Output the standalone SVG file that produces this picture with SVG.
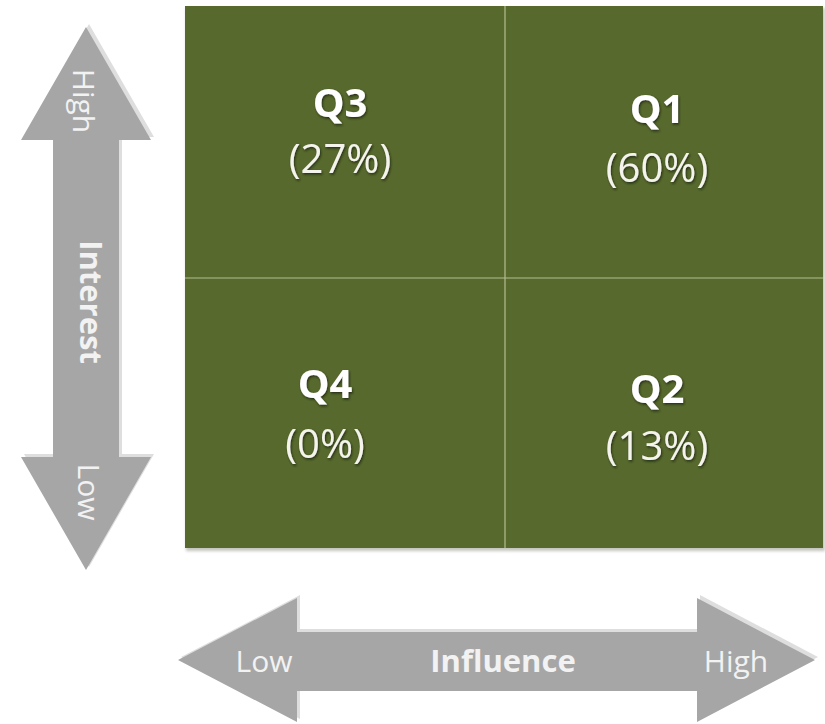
<svg xmlns="http://www.w3.org/2000/svg" width="825" height="724" viewBox="0 0 825 724">
  <defs>
    <style>
      .quad { fill: #57692d; }
      .divider { stroke: #b4bd92; stroke-width: 1.2; }
      .arrow { fill: #a6a6a6; }
      .arrow-rim { fill: #dedede; }
      .qtitle { font-family: "Open Sans", "Liberation Sans", sans-serif; font-weight: bold; font-size: 40px; fill: #ffffff; text-anchor: middle; filter: url(#txtShadow); }
      .qvalue { font-family: "Open Sans", "Liberation Sans", sans-serif; font-size: 40px; fill: #f4f4ec; text-anchor: middle; filter: url(#txtShadow); }
      .axis { font-family: "Open Sans", "Liberation Sans", sans-serif; font-size: 30px; fill: #f2f2f2; text-anchor: middle; }
      .axis-title { font-family: "Open Sans", "Liberation Sans", sans-serif; font-weight: bold; font-size: 31px; fill: #f2f2f2; text-anchor: middle; }
    </style>
    <filter id="txtShadow" x="-20%" y="-20%" width="140%" height="140%">
      <feDropShadow dx="1" dy="1.5" stdDeviation="1.2" flood-color="#1e2410" flood-opacity="0.8"/>
    </filter>
    <filter id="boxShadow" x="-5%" y="-5%" width="110%" height="110%">
      <feGaussianBlur stdDeviation="1.5"/>
    </filter>
  </defs>

  <rect width="825" height="724" fill="#ffffff"/>

  <!-- interest axis (vertical double arrow) -->
  <g id="interest-axis">
    <polygon class="arrow-rim" points="89,24 154,137 122,137 122,454 154,454 89,567 24,454 56,454 56,137 24,137"/>
    <polygon class="arrow" points="86,27 151,140 119,140 119,457 151,457 86,570 21,457 53,457 53,140 21,140"/>
    <text class="axis" transform="translate(73,101) rotate(90)">High</text>
    <text class="axis-title" transform="translate(80,302) rotate(90)">Interest</text>
    <text class="axis" transform="translate(78,492) rotate(90)">Low</text>
  </g>

  <!-- influence axis (horizontal double arrow) -->
  <g id="influence-axis">
    <polygon class="arrow-rim" points="181,657 300,595 300,629 700,629 700,595 818,657 700,719 700,689 300,689 300,719"/>
    <polygon class="arrow" points="178,660 297,598 297,632 697,632 697,598 815,660 697,722 697,691 297,691 297,722"/>
    <text class="axis" x="264" y="672">Low</text>
    <text class="axis-title" x="503" y="672">Influence</text>
    <text class="axis" x="736" y="672">High</text>
  </g>

  <!-- quadrant grid -->
  <rect x="186" y="8" width="639" height="543" fill="#8a8a80" opacity="0.5" filter="url(#boxShadow)"/>
  <g id="q3">
    <rect class="quad" x="185" y="6" width="320" height="272"/>
    <text class="qtitle" x="340" y="117">Q3</text>
    <text class="qvalue" x="340" y="173">(27%)</text>
  </g>
  <g id="q1">
    <rect class="quad" x="505" y="6" width="318" height="272"/>
    <text class="qtitle" x="657" y="123">Q1</text>
    <text class="qvalue" x="657" y="182">(60%)</text>
  </g>
  <g id="q4">
    <rect class="quad" x="185" y="278" width="320" height="270"/>
    <text class="qtitle" x="325" y="398">Q4</text>
    <text class="qvalue" x="325" y="458">(0%)</text>
  </g>
  <g id="q2">
    <rect class="quad" x="505" y="278" width="318" height="270"/>
    <text class="qtitle" x="657" y="403">Q2</text>
    <text class="qvalue" x="657" y="460">(13%)</text>
  </g>

  <!-- quadrant dividers -->
  <g id="dividers">
    <line class="divider" x1="505" y1="6" x2="505" y2="548"/>
    <line class="divider" x1="185" y1="278" x2="823" y2="278"/>
  </g>
</svg>
